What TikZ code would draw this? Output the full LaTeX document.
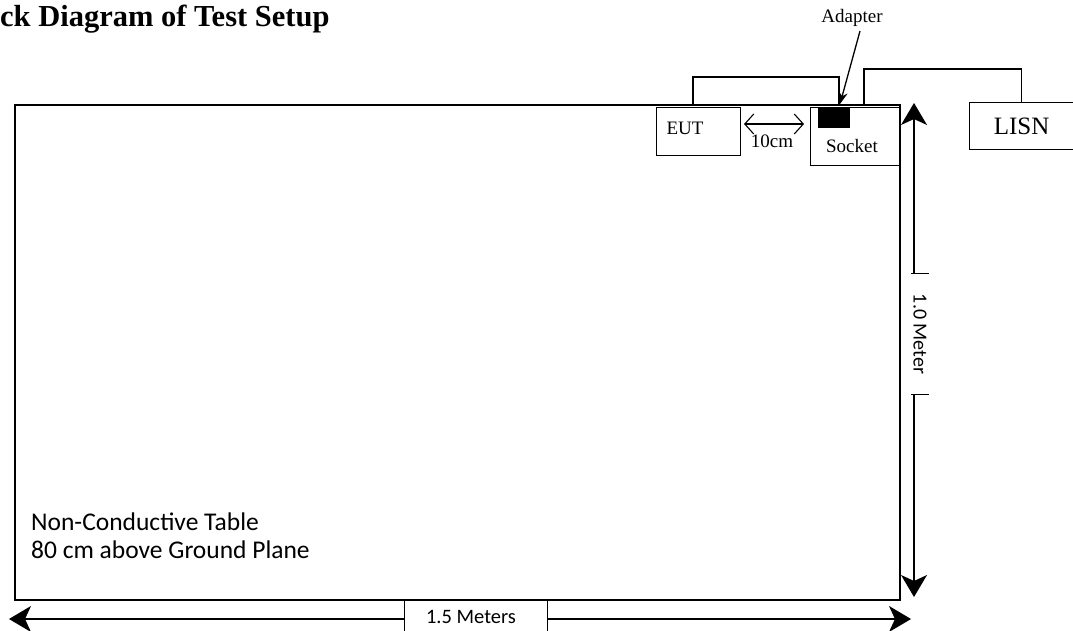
\documentclass[tikz,border=0pt]{standalone}
\usepackage{fontspec}
\setmainfont{Liberation Serif}
\newfontfamily\calibri{Carlito}
\usetikzlibrary{arrows.meta, positioning}

\begin{document}
\begin{tikzpicture}[
    x=1pt, y=-1pt,
    unit/.style={draw, line width=1.3pt, inner sep=0pt, anchor=north west},
    serif/.style={inner sep=0pt, font=\fontsize{19}{22}\selectfont},
    sans/.style={inner sep=0pt, font=\calibri\fontsize{20.5}{27}\selectfont},
    cable/.style={line width=1.3pt},
    dimline/.style={line width=1.3pt, -{Stealth[length=22pt, width=26pt, inset=6pt]}},
    dimside/.style={line width=1.3pt},
    gapline/.style={line width=1.1pt, {Straight Barb[length=9pt, width=20pt]}-{Straight Barb[length=9pt, width=20pt]}}
  ]
    \useasboundingbox (0,0) rectangle (1073,631);

    % title (cut at the left edge)
    \node[anchor=base west, inner sep=0pt, font=\fontsize{30.5}{34}\selectfont\bfseries] (title) at (0,27) {ck Diagram of Test Setup};

    % table
    \node[draw, line width=2.6pt, inner sep=0pt, minimum width=885pt, minimum height=495pt] (table) at (457.5,352.5) {};
    \node[anchor=base west, inner sep=0pt, align=left, font=\calibri\fontsize{25.5}{28}\selectfont] (tabletext) at (31,558) {Non-Conductive Table\\80 cm above Ground Plane};

    % units on the table
    \node[unit, minimum width=84pt, minimum height=48pt] (eut) at (656,107) {};
    \node[serif] (eutlabel) at (685,128) {EUT};
    \node[unit, minimum width=89pt, minimum height=58pt] (socket) at (810,107) {};
    \node[serif] (socketlabel) at (852,146) {Socket};
    \node[fill=black, inner sep=0pt, minimum width=32pt, minimum height=20pt, anchor=north west] (adapter) at (818,108) {};
    \node[unit, minimum width=104pt, minimum height=47pt, font=\fontsize{25}{28}\selectfont] (lisn) at (969,102) {LISN};

    % adapter pointer
    \node[serif] (adapterlabel) at (852,18) {Adapter};
    \coordinate (adaptertip) at (840,104);
    \draw[line width=1.3pt, -{Stealth[length=12pt, width=9pt]}] (860,31) -- (adaptertip);

    % cables
    \coordinate (eutplug) at (693,104);
    \coordinate (adapterplug) at (839,104);
    \coordinate (socketplug) at (864,104);
    \draw[cable] (eutplug) -- ++(0,-27) -| (adapterplug);
    \draw[cable] (socketplug) -- ++(0,-35) -| (lisn.north);

    % 10 cm gap
    \coordinate (gapleft) at (744,124);
    \coordinate (gapright) at (804,124);
    \draw[gapline] (gapleft) -- (gapright);
    \node[serif] (gaplabel) at (772,141) {10cm};

    % 1.0 Meter
    \node[sans, font=\calibri\fontsize{20}{24}\selectfont, rotate=-90, minimum width=120pt, minimum height=17pt] (dimv) at (920,334) {1.0 Meter};
    \draw[dimside] (dimv.south west) -- (dimv.north west);
    \draw[dimside] (dimv.south east) -- (dimv.north east);
    \coordinate (vtop) at (914,103);
    \coordinate (vbot) at (914,597);
    \draw[dimline] (vtop |- dimv.west) -- (vtop);
    \draw[dimline] (vbot |- dimv.east) -- (vbot);

    % 1.5 Meters
    \node[sans, minimum width=142pt, minimum height=38pt] (dimh) at (476,619) {};
    \node[sans] (dimhlabel) at (471,617) {1.5 Meters};
    \draw[dimside] (dimh.north west) -- (dimh.south west);
    \draw[dimside] (dimh.north east) -- (dimh.south east);
    \coordinate (hleft) at (9,619);
    \coordinate (hright) at (911,619);
    \draw[dimline] (hleft -| dimh.west) -- (hleft);
    \draw[dimline] (hright -| dimh.east) -- (hright);
\end{tikzpicture}
\end{document}
